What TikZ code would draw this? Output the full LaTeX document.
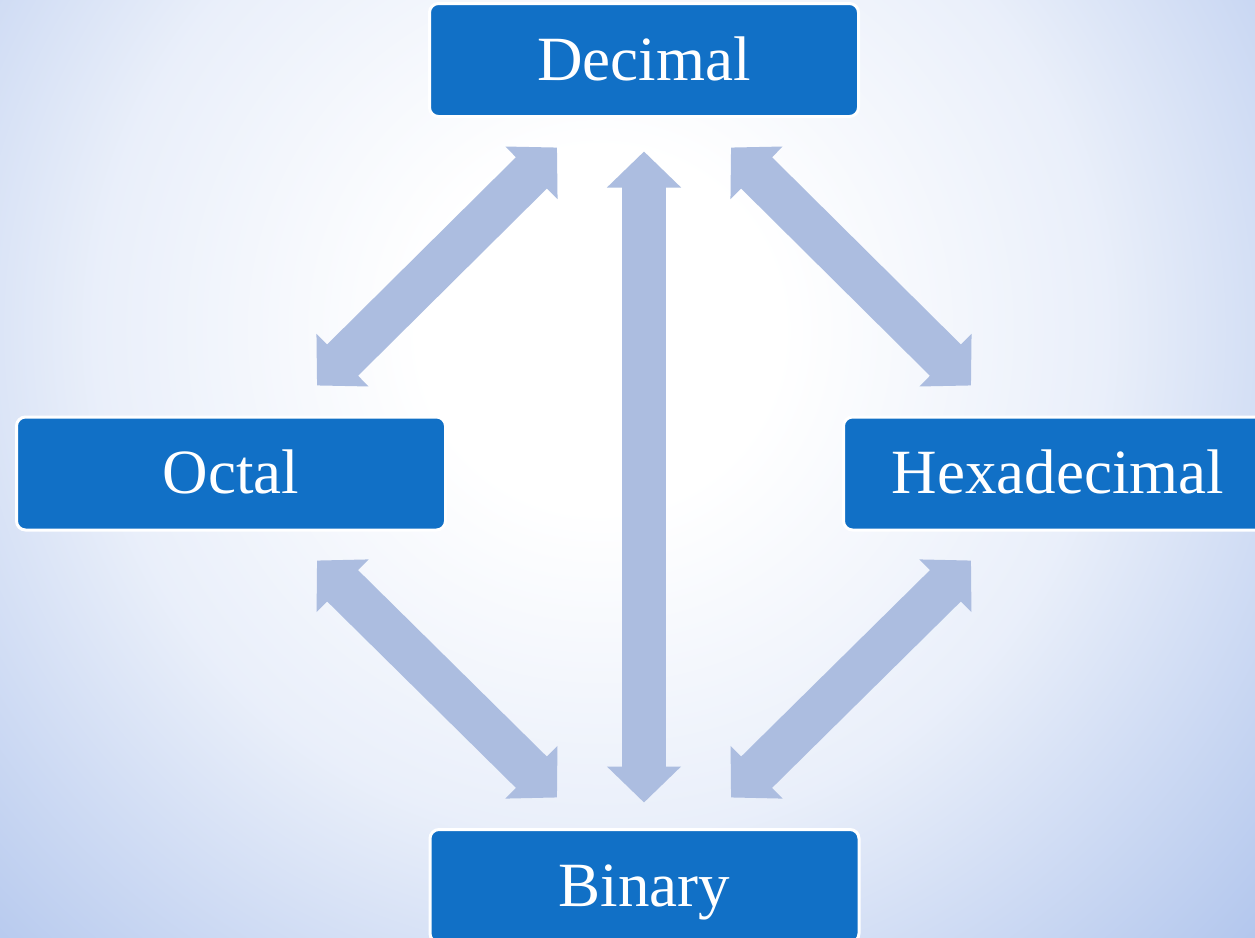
\documentclass[tikz,border=0pt]{standalone}
\usepackage{fontspec}
\setmainfont{Liberation Serif}
\usetikzlibrary{arrows.meta,calc}

\definecolor{boxblue}{RGB}{17,112,198}
\definecolor{arrowblue}{RGB}{172,189,224}
\definecolor{bgouter}{RGB}{178,198,237}
\colorlet{bgmid}{bgouter!28!white}
\pgfdeclareradialshading{bgglow}{\pgfpointorigin}{color(0bp)=(white); color(5bp)=(white); color(14bp)=(bgmid); color(25bp)=(bgouter); color(50bp)=(bgouter)}

\tikzset{
  numbox/.style={draw=white, line width=3pt, fill=boxblue, rounded corners=9pt,
    minimum width=429pt, minimum height=113pt, inner sep=0pt, text=white,
    font=\fontsize{63}{70}\selectfont, text height=40pt, text depth=0pt},
  twoway/.style={draw=arrowblue, line width=44pt,
    {Triangle[width=72pt,length=36pt]}-{Triangle[width=72pt,length=36pt]}}
}

\begin{document}
\begin{tikzpicture}[x=1pt,y=-1pt]
\useasboundingbox (0,0) rectangle (1255,937);
% background
\begin{scope}
\clip (0,0) rectangle (1255,937);
\shade[shading=bgglow] (600,330) circle (900pt);
\end{scope}
% number systems
\node[numbox] (dec) at (644,60) {Decimal};
\node[numbox] (oct) at (231,473.5) {Octal};
\node[numbox] (hex) at (1058,473.5) {Hexadecimal};
\node[numbox] (bin) at (644.5,886) {Binary};
% arrow ends
\coordinate (dec-l) at ($(dec.south)+(-87,29.5)$);
\coordinate (dec-m) at ($(dec.south)+(0,33.5)$);
\coordinate (dec-r) at ($(dec.south)+(87,29.5)$);
\coordinate (oct-n) at ($(oct.north)+(86,-30)$);
\coordinate (oct-s) at ($(oct.south)+(86,29)$);
\coordinate (hex-n) at ($(hex.north)+(-87,-30)$);
\coordinate (hex-s) at ($(hex.south)+(-87,29)$);
\coordinate (bin-l) at ($(bin.north)+(-87.5,-30.5)$);
\coordinate (bin-m) at ($(bin.north)+(-0.5,-25.5)$);
\coordinate (bin-r) at ($(bin.north)+(86.5,-30.5)$);
% conversions
\draw[twoway] (dec-l) -- (oct-n);
\draw[twoway] (dec-r) -- (hex-n);
\draw[twoway] (dec-m) -- (bin-m);
\draw[twoway] (oct-s) -- (bin-l);
\draw[twoway] (hex-s) -- (bin-r);
\end{tikzpicture}
\end{document}
